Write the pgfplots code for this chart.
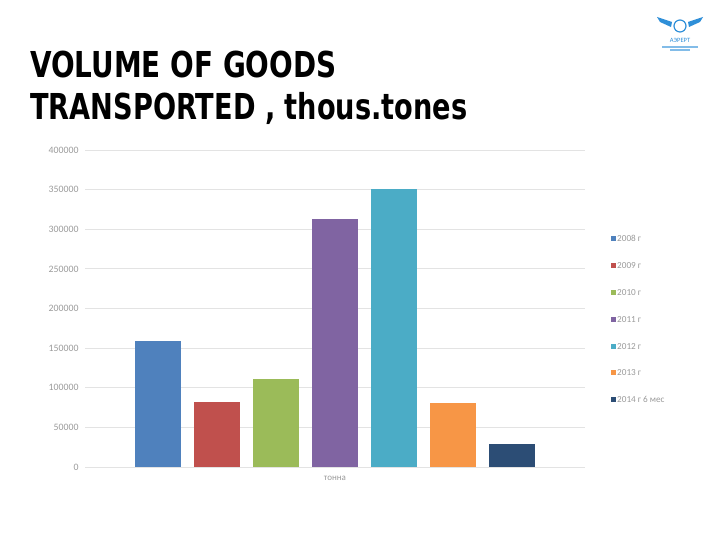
\documentclass[border=0pt]{standalone}
\usepackage{pgfplots}
\pgfplotsset{compat=1.18}
\usepackage{fontspec}
\setmainfont{Carlito}
\newfontfamily\titlefont{DejaVu Sans}

\definecolor{c2008}{HTML}{4F81BD}
\definecolor{c2009}{HTML}{C0504D}
\definecolor{c2010}{HTML}{9BBB59}
\definecolor{c2011}{HTML}{8064A2}
\definecolor{c2012}{HTML}{4BACC6}
\definecolor{c2013}{HTML}{F79646}
\definecolor{c2014}{HTML}{2C4D75}
\definecolor{labgray}{HTML}{9A9A9A}
\definecolor{logoblue}{HTML}{2F8FD8}

\begin{document}
% axis box lower left corner sits at the origin; page pixel (px,py) -> (px-85, 467-py)
\begin{tikzpicture}[x=1bp,y=1bp]
  \path[use as bounding box] (-85,-73) rectangle (635,467);
  % title
  \node[anchor=base west, inner sep=0, xscale=0.78,
        font=\titlefont\bfseries\fontsize{35.7bp}{40bp}\selectfont] at (-55,389) {VOLUME OF GOODS};
  \node[anchor=base west, inner sep=0, xscale=0.762,
        font=\titlefont\bfseries\fontsize{35.7bp}{40bp}\selectfont] at (-55,347) {TRANSPORTED , thous.tones};
  % logo (rough)
  \draw[logoblue, line width=1.2bp] (595,441) circle (6);
  \fill[logoblue] (587,445) -- (572,450) -- (575,445) -- (586,440) -- cycle;
  \fill[logoblue] (603,445) -- (618,450) -- (615,445) -- (604,440) -- cycle;
  \node[text=logoblue, font=\fontsize{6.5bp}{7bp}\selectfont] at (595,427) {АЭРЕРТ};
  \fill[logoblue!60] (577,419) rectangle (613,420.5);
  \fill[logoblue!60] (585,416) rectangle (605,417.5);

  \begin{axis}[
      scale only axis, width=500bp, height=317bp,
      xmin=-1, xmax=1, ymin=0, ymax=400000,
      ybar=13bp, bar width=46bp,
      axis line style={draw=none},
      ymajorgrids, grid style={gray!22, line width=0.8bp},
      major tick length=0pt,
      xtick=\empty,
      ytick={0,50000,...,400000},
      scaled y ticks=false,
      /pgf/number format/assume math mode=true,
      yticklabel style={/pgf/number format/fixed, /pgf/number format/1000 sep={},
        font=\fontsize{9.8bp}{10bp}\selectfont, text=labgray, xshift=-3bp},
      xlabel={тонна},
      xlabel style={at={(axis description cs:0.5,0)}, anchor=north, yshift=-6bp,
        font=\fontsize{9bp}{9bp}\selectfont, text=labgray},
      legend style={at={(1.046,0.742)}, anchor=north west, draw=none, fill=none,
        font=\fontsize{9.2bp}{10bp}\selectfont, text=labgray,
        nodes={inner sep=1bp, text height=7bp, text depth=1bp},
        row sep=16.8bp},
      legend cell align=left,
      legend image code/.code={\fill[#1] (0bp,-2.5bp) rectangle (5bp,2.5bp);},
    ]
    \addplot[fill=c2008, draw=none] coordinates {(0,159500)};
    \addlegendentry{2008 г}
    \addplot[fill=c2009, draw=none] coordinates {(0,81500)};
    \addlegendentry{2009 г}
    \addplot[fill=c2010, draw=none] coordinates {(0,111300)};
    \addlegendentry{2010 г}
    \addplot[fill=c2011, draw=none] coordinates {(0,312300)};
    \addlegendentry{2011 г}
    \addplot[fill=c2012, draw=none] coordinates {(0,350800)};
    \addlegendentry{2012 г}
    \addplot[fill=c2013, draw=none] coordinates {(0,81000)};
    \addlegendentry{2013 г}
    \addplot[fill=c2014, draw=none] coordinates {(0,29300)};
    \addlegendentry{2014 г 6 мес}
  \end{axis}
\end{tikzpicture}
\end{document}
